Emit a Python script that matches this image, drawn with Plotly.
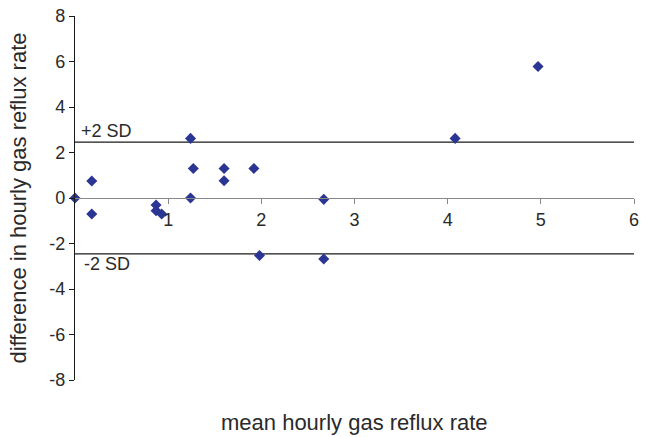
import plotly.graph_objects as go

mean_rate = [0.0, 0.18, 0.18, 0.87, 0.87, 0.93, 1.24, 1.24, 1.27, 1.60, 1.60, 1.92, 1.98, 2.67, 2.67, 4.08, 4.97]
diff_rate = [0.0, 0.75, -0.70, -0.31, -0.56, -0.70, 2.62, 0.0, 1.30, 1.30, 0.76, 1.30, -2.53, -0.06, -2.68, 2.62, 5.78]
upper_sd = 2.46
lower_sd = -2.46
x_ticks = [1, 2, 3, 4, 5, 6]
y_ticks = [-8, -6, -4, -2, 0, 2, 4, 6, 8]
y_tick_text = ["-8", "-6", "-4", "-2", "0", "2", "4", "6", "8"]
x_range = [0, 6]
y_range = [-8, 8]

font_family = "Liberation Sans, Arial, sans-serif"
text_color = "#2a2a2a"

fig = go.Figure()
fig.add_trace(go.Scatter(x=x_range, y=[upper_sd, upper_sd], mode="lines",
                         line=dict(color="#1a1a1a", width=1.3), showlegend=False, hoverinfo="skip"))
fig.add_trace(go.Scatter(x=x_range, y=[lower_sd, lower_sd], mode="lines",
                         line=dict(color="#1a1a1a", width=1.3), showlegend=False, hoverinfo="skip"))
fig.add_trace(go.Scatter(x=mean_rate, y=diff_rate, mode="markers",
                         marker=dict(symbol="diamond", size=8.5, color="#2b3593",
                                     line=dict(width=0)),
                         showlegend=False, cliponaxis=False))

fig.add_annotation(x=0.04, y=upper_sd, text="+2 SD", showarrow=False, xanchor="left",
                   yanchor="bottom", yshift=-1, font=dict(size=18, color=text_color, family=font_family))
fig.add_annotation(x=0.08, y=lower_sd, text="-2 SD", showarrow=False, xanchor="left",
                   yanchor="top", yshift=2, font=dict(size=18, color=text_color, family=font_family))
fig.add_annotation(x=0.5, y=-0.118, xref="paper", yref="paper", text="mean hourly gas reflux rate",
                   showarrow=False, xanchor="center", yanchor="middle",
                   font=dict(size=22, color=text_color, family=font_family))

fig.update_layout(
    width=645, height=437,
    margin=dict(l=75, r=6, t=16, b=57),
    plot_bgcolor="white", paper_bgcolor="white",
    font=dict(family=font_family, color=text_color),
    xaxis=dict(range=x_range, tickvals=x_ticks, ticks="outside", ticklen=5, tickcolor="#888888",
               showline=True, linecolor="#888888", linewidth=1.3, showgrid=False, zeroline=False,
               anchor="free", position=0.5, tickfont=dict(size=18, color=text_color)),
    yaxis=dict(range=y_range, tickvals=y_ticks, ticktext=y_tick_text, ticks="outside", ticklen=5,
               tickcolor="#1a1a1a",
               showline=True, linecolor="#1a1a1a", linewidth=1.3, showgrid=False, zeroline=False,
               tickfont=dict(size=18, color=text_color),
               title=dict(text="difference in hourly gas reflux rate", standoff=16,
                          font=dict(size=22, color=text_color))),
)

fig.write_html("out.html")
